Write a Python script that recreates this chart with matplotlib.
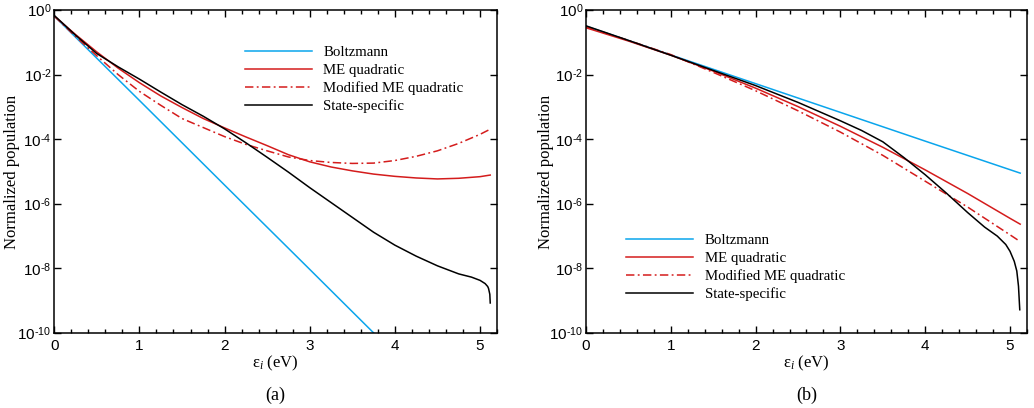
import numpy as np
import matplotlib
matplotlib.use("Agg")
import matplotlib.pyplot as plt
from matplotlib.ticker import FixedLocator, MultipleLocator, NullLocator, FuncFormatter

plt.rcParams['mathtext.fontset'] = 'custom'
plt.rcParams['mathtext.it'] = 'Liberation Serif:italic'
plt.rcParams['mathtext.rm'] = 'Liberation Serif'

SERIF = 'Liberation Serif'
SANS = 'Liberation Sans'

# ---- panel (a): log10 of normalized population vs energy (eV)
a_boltz_e = [0, 1, 2, 3, 4]
a_boltz = [-0.19, -2.80, -5.42, -8.03, -10.65]

a_me_e = [0, 0.25, 0.5, 0.75, 1.0, 1.25, 1.5, 1.75, 2.0, 2.25, 2.5, 2.75,
          3.0, 3.25, 3.5, 3.75, 4.0, 4.25, 4.5, 4.75, 5.0, 5.12]
a_me = [-0.19, -0.76, -1.30, -1.80, -2.25, -2.66, -3.02, -3.36, -3.65, -3.93,
        -4.20, -4.48, -4.70, -4.86, -4.98, -5.08, -5.15, -5.20, -5.23, -5.21,
        -5.16, -5.11]
a_mod = [-0.19, -0.82, -1.42, -2.00, -2.52, -2.95, -3.36, -3.64, -3.92, -4.16,
         -4.36, -4.55, -4.66, -4.72, -4.75, -4.74, -4.66, -4.53, -4.36, -4.13,
         -3.85, -3.69]

a_ss_e = [0, 0.25, 0.5, 0.75, 1.0, 1.25, 1.5, 1.75, 2.0, 2.25, 2.5, 2.75, 3.0,
          3.25, 3.5, 3.75, 4.0, 4.25, 4.5, 4.75, 4.9, 5.0, 5.06, 5.09, 5.10,
          5.115, 5.12]
a_ss = [-0.17, -0.78, -1.35, -1.76, -2.14, -2.54, -2.93, -3.29, -3.68, -4.11,
        -4.56, -5.02, -5.50, -5.96, -6.42, -6.88, -7.28, -7.62, -7.92, -8.17,
        -8.27, -8.37, -8.47, -8.56, -8.62, -8.80, -9.07]

# ---- panel (b)
b_boltz_e = [0, 1, 2, 3, 4, 5.12]
b_boltz = [-0.50, -1.39, -2.28, -3.17, -4.06, -5.05]

b_me_e = [0, 0.5, 1.0, 1.5, 2.0, 2.5, 3.0, 3.5, 4.0, 4.5, 5.0, 5.12]
b_me = [-0.55, -0.96, -1.40, -1.89, -2.42, -2.99, -3.60, -4.25, -4.95, -5.68,
        -6.45, -6.63]
b_mod = [-0.52, -0.94, -1.38, -1.93, -2.50, -3.12, -3.78, -4.50, -5.30, -6.10,
         -6.96, -7.17]

b_ss_e = [0, 0.5, 1, 1.5, 2, 2.5, 3, 3.25, 3.5, 3.75, 4.0, 4.25, 4.5, 4.7,
          4.85, 4.95, 5.0, 5.05, 5.08, 5.10, 5.115]
b_ss = [-0.49, -0.94, -1.40, -1.87, -2.34, -2.86, -3.43, -3.73, -4.08, -4.57,
        -5.10, -5.67, -6.27, -6.72, -7.00, -7.26, -7.47, -7.78, -8.08, -8.55,
        -9.28]

labels = ['Boltzmann', 'ME quadratic', 'Modified ME quadratic', 'State-specific']
BLUE = '#0aa5ec'
RED = '#d41c1c'
DASHDOT = (0, (5.5, 2.2, 1.2, 2.2))
LW = 1.1

fig = plt.figure(figsize=(10.34, 4.08), dpi=100)
ax_a = fig.add_axes([0.0525, 0.1838, 0.4282, 0.7917])
ax_b = fig.add_axes([0.5667, 0.1838, 0.4265, 0.7917])


def decade_label(v, pos):
    # short hyphen in the exponent keeps the labels narrow
    k = int(round(np.log10(v)))
    exp = ('\u2010%d' % -k) if k < 0 else '%d' % k
    return r'10$^{\mathregular{%s}}$' % exp


def draw(ax, boltz_e, boltz, me_e, me, mod, ss_e, ss):
    ax.plot(boltz_e, 10 ** np.array(boltz), color=BLUE, lw=LW, label=labels[0])
    ax.plot(me_e, 10 ** np.array(me), color=RED, lw=LW, label=labels[1])
    ax.plot(me_e, 10 ** np.array(mod), color=RED, lw=LW, ls=DASHDOT, label=labels[2])
    ax.plot(ss_e, 10 ** np.array(ss), color='black', lw=LW, label=labels[3])

    ax.set_yscale('log')
    ax.set_xlim(0, 5.2)
    ax.set_ylim(1e-10, 1)
    ax.xaxis.set_major_locator(MultipleLocator(1))
    ax.xaxis.set_minor_locator(MultipleLocator(0.2))
    ax.yaxis.set_major_locator(FixedLocator([10.0 ** k for k in range(0, -11, -2)]))
    ax.yaxis.set_minor_locator(NullLocator())
    ax.yaxis.set_major_formatter(FuncFormatter(decade_label))
    ax.tick_params(which='both', direction='in', top=True, right=True,
                   width=1.0, labelsize=11)
    ax.tick_params(which='major', length=5)
    ax.tick_params(axis='x', which='major', pad=4)
    ax.tick_params(axis='y', which='major', pad=2)
    ax.tick_params(which='minor', length=2.8)
    for lab in ax.get_xticklabels() + ax.get_yticklabels():
        lab.set_family(SANS)
    for sp in ax.spines.values():
        sp.set_linewidth(1.1)

    ax.set_xlabel(r'ε$_{\mathit{i}}$ (eV)', family=SERIF, fontsize=12, va='center')
    ax.set_ylabel('Normalized population', family=SERIF, fontsize=12, va='center')


draw(ax_a, a_boltz_e, a_boltz, a_me_e, a_me, a_mod, a_ss_e, a_ss)
draw(ax_b, b_boltz_e, b_boltz, b_me_e, b_me, b_mod, b_ss_e, b_ss)

ax_a.xaxis.set_label_coords(0.5, -0.093)
ax_a.yaxis.set_label_coords(-0.095, 0.5)
ax_b.xaxis.set_label_coords(0.5, -0.093)
ax_b.yaxis.set_label_coords(-0.09, 0.5)

leg_kw = dict(frameon=False, loc='upper left', prop={'family': SERIF, 'size': 10.7},
              handlelength=4.5, handletextpad=0.8, labelspacing=0.29,
              borderpad=0, borderaxespad=0)
ax_a.legend(bbox_to_anchor=(0.43, 0.889), **leg_kw)
ax_b.legend(bbox_to_anchor=(0.091, 0.307), **leg_kw)

fig.text(0.266, 1 - 395 / 408, '(a)', family=SERIF, fontsize=13, ha='center', va='center')
fig.text(0.780, 1 - 395 / 408, '(b)', family=SERIF, fontsize=13, ha='center', va='center')

fig.savefig('out.png', dpi=100)
